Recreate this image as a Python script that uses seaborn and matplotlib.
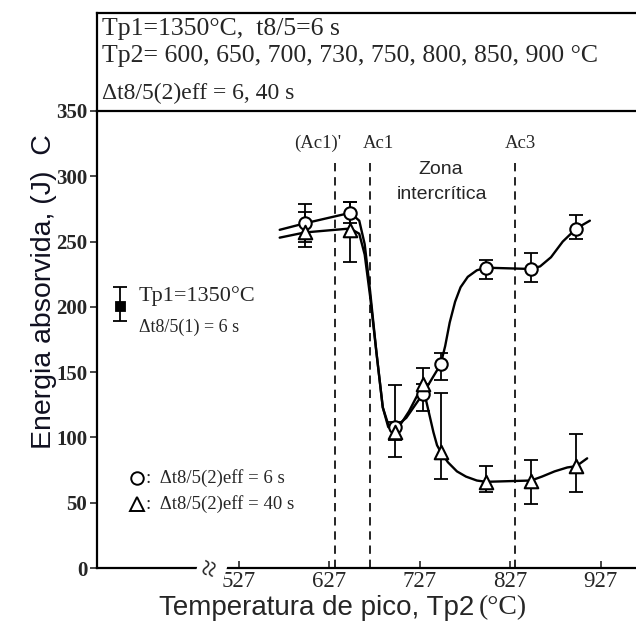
import numpy as np
import pandas as pd
import matplotlib
matplotlib.use("Agg")
import matplotlib.pyplot as plt
import seaborn as sns

# ---------------- data ----------------
temps = [600, 650, 700, 730, 750, 800, 850, 900]
energy_6s = [264, 272, 108, 133, 156, 230, 229, 260]
err6_lo = [14, 8, 23, 13, 12, 9, 10, 8]
err6_hi = [15, 8, 32, 8, 9, 6, 12, 10]
energy_40s = [257, 259, 104, 141, 89, 66, 67, 78]
err40_lo = [11, 25, 6, 10, 21, 8, 18, 20]
err40_hi = [16, 21, 8, 12, 45, 12, 16, 25]

# drawn trend curves
curve6_x = [572, 600, 650, 660, 666, 672, 679, 686, 692, 700, 712, 730, 750, 755, 760, 766, 772, 780, 790, 800, 850, 860, 872, 885, 900, 915]
curve6_y = [259, 264, 272, 266, 248, 212, 165, 123, 110, 108, 115, 133, 156, 170, 188, 204, 215, 223, 228, 230, 229, 231, 238, 250, 260, 266]
curve40_x = [572, 600, 650, 660, 666, 672, 679, 686, 692, 700, 715, 730, 736, 742, 746, 750, 758, 768, 778, 790, 800, 850, 862, 876, 890, 900, 912]
curve40_y = [253, 257, 260, 256, 240, 208, 165, 123, 108, 104, 120, 140, 122, 104, 94, 89, 81, 74, 70, 67, 66, 67, 70, 74, 77, 78, 84]

ref_x = [395]
ref_y = [201]
ref_lo = [12]
ref_hi = [14]

xticks = [527, 627, 727, 827, 927]
yticks = [0, 50, 100, 150, 200, 250, 300, 350]
crit_x = [633, 672, 832]
crit_labels = ["(Ac1)'", "Ac1", "Ac3"]
crit_label_x = [614, 681, 838]

header_lines = ["Tp1=1350°C,  t8/5=6 s",
                "Tp2= 600, 650, 700, 730, 750, 800, 850, 900 °C",
                "Δt8/5(2)eff = 6, 40 s"]

# ---------------- style ----------------
sns.set_theme(style="white")
plt.rcParams['font.family'] = ['Liberation Serif', 'DejaVu Serif']
plt.rcParams['mathtext.fontset'] = 'stix'

W, H = 636, 630
fig = plt.figure(figsize=(W / 100, H / 100), dpi=100)
fig.patch.set_facecolor("white")

ax = fig.add_axes([97 / W, (H - 568) / H, 1 - 97 / W, (568 - 111) / H])
ax.set_xlim(370, 966)
ax.set_ylim(0, 350)

# curves
sns.lineplot(x=curve6_x, y=curve6_y, sort=False, estimator=None, color="black",
             linewidth=1.7, ax=ax, zorder=2)
sns.lineplot(x=curve40_x, y=curve40_y, sort=False, estimator=None, color="black",
             linewidth=1.7, ax=ax, zorder=2)

# error bars
ax.errorbar(temps, energy_6s, yerr=[err6_lo, err6_hi], fmt="none", ecolor="black",
            elinewidth=1.3, capsize=5, capthick=1.3, zorder=3)
ax.errorbar(temps, energy_40s, yerr=[err40_lo, err40_hi], fmt="none", ecolor="black",
            elinewidth=1.3, capsize=5, capthick=1.3, zorder=3)
ax.errorbar(ref_x, ref_y, yerr=[ref_lo, ref_hi], fmt="none", ecolor="black",
            elinewidth=1.3, capsize=5, capthick=1.3, zorder=3)

# markers
sns.scatterplot(x=temps, y=energy_6s, marker="o", s=80, facecolor="white",
                edgecolor="black", linewidth=1.5, ax=ax, zorder=5)
sns.scatterplot(x=temps, y=energy_40s, marker="^", s=95, facecolor="white",
                edgecolor="black", linewidth=1.5, ax=ax, zorder=6)
sns.scatterplot(x=ref_x, y=ref_y, marker="s", s=55, color="black",
                edgecolor="black", ax=ax, zorder=6)

# critical temperature lines
for cx, lx, lab in zip(crit_x, crit_label_x, crit_labels):
    ax.plot([cx, cx], [0, 313], color="black", linewidth=1.2,
            linestyle=(0, (5, 3.5)), zorder=1)
    ax.text(lx, 325, lab, ha="center", va="center", fontsize=13.5)

ax.text(750, 305, "Zona", ha="center", va="center", fontsize=14,
        family=["Liberation Sans", "DejaVu Sans"])
ax.text(752, 286, "intercrítica", ha="center", va="center", fontsize=14,
        family=["Liberation Sans", "DejaVu Sans"])

# reference-point annotation
ax.text(416, 208, "Tp1=1350°C", ha="left", va="center", fontsize=16)
ax.text(416, 184, "Δt8/5(1) = 6 s", ha="left", va="center", fontsize=13)

# in-plot key
ax.plot([414], [69], marker="o", markersize=9, markerfacecolor="white",
        markeredgecolor="black", markeredgewidth=1.4, linestyle="none")
ax.plot([414], [49], marker="^", markersize=9.5, markerfacecolor="white",
        markeredgecolor="black", markeredgewidth=1.4, linestyle="none")
ax.text(424, 69, ":  Δt8/5(2)eff = 6 s", ha="left", va="center", fontsize=13.5)
ax.text(424, 49, ":  Δt8/5(2)eff = 40 s", ha="left", va="center", fontsize=13.5)

# axes styling
ax.set_xticks(xticks)
ax.set_xticklabels([str(t) for t in xticks], fontsize=16.5)
ax.set_yticks(yticks)
ax.set_yticklabels([str(t) for t in yticks], fontsize=15, fontweight="bold")
ax.tick_params(axis="x", direction="in", length=5, width=1.2, pad=2, bottom=True)
ax.tick_params(axis="y", direction="out", length=5, width=1.2, pad=2, left=True)
for s in ["top", "right"]:
    ax.spines[s].set_visible(False)
for s in ["left", "bottom"]:
    ax.spines[s].set_linewidth(1.6)
    ax.spines[s].set_color("black")
ax.grid(False)
ax.set_xlabel("")
ax.set_ylabel("")

# axis break mark
ax.text(497, 0, "≈", rotation=75, ha="center", va="center", fontsize=22,
        bbox=dict(facecolor="white", edgecolor="none", pad=0.0),
        clip_on=False, zorder=10)

# axis titles
fig.text(44 / W, 1 - 292 / H, "Energia absorvida, (J)  C", rotation=90,
         ha="center", va="center", fontsize=20.5, color="#101020",
         family=["Liberation Sans", "DejaVu Sans"])
fig.text(474 / W, 1 - 608 / H, "Temperatura de pico, Tp2", ha="right",
         va="center", fontsize=20, family=["Liberation Sans", "DejaVu Sans"])
fig.text(479 / W, 1 - 608 / H, "(°C)", ha="left", va="center", fontsize=20)

# header box
hax = fig.add_axes([97 / W, (H - 111) / H, 1.2, (111 - 13) / H])
hax.set_xticks([])
hax.set_yticks([])
hax.set_facecolor("white")
for s in ["left", "top", "bottom"]:
    hax.spines[s].set_linewidth(1.6)
    hax.spines[s].set_color("black")
hax.spines["right"].set_visible(False)
fig.text(102 / W, 1 - 35 / H, header_lines[0], ha="left", va="baseline", fontsize=18.5)
fig.text(102 / W, 1 - 62 / H, header_lines[1], ha="left", va="baseline", fontsize=18.5)
fig.text(102 / W, 1 - 99 / H, header_lines[2], ha="left", va="baseline", fontsize=17)

fig.savefig("out.png", dpi=100, facecolor="white")
